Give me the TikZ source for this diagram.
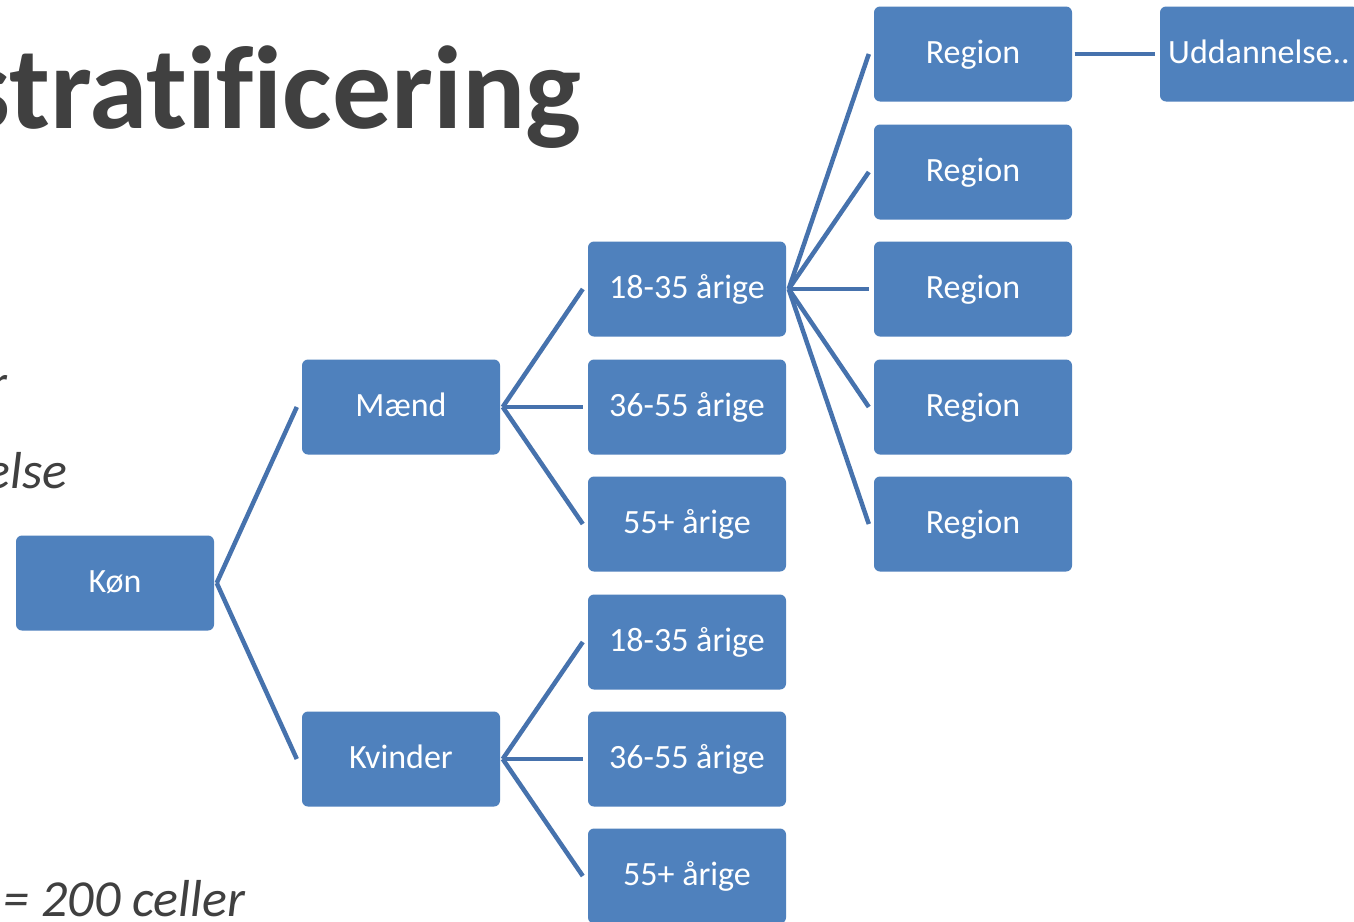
\documentclass[tikz,border=0pt]{standalone}
\usepackage{fontspec}
\setmainfont{Carlito}[Ligatures=CommonOff]
\definecolor{boxblue}{HTML}{4F81BD}
\definecolor{lineblue}{HTML}{4672AD}
\definecolor{titlegray}{HTML}{404040}
\begin{document}
\begin{tikzpicture}[x=1pt,y=-1pt,
  box/.style={rectangle, rounded corners=6pt, fill=boxblue, draw=none,
    minimum width=198pt, minimum height=95pt, inner sep=0pt,
    text=white, font=\fontsize{34}{40}\selectfont,
    text height=27pt, text depth=8pt},
  conn/.style={draw=lineblue, line width=4.5pt},
  side/.style={text=titlegray, font=\fontsize{52}{60}\selectfont\itshape, inner sep=0pt}]
\clip (0,0) rectangle (1354,921);
\fill[white] (0,0) rectangle (1354,921);
% title and side texts
\node[anchor=base east, inner sep=0pt, text=titlegray, font=\fontsize{118}{130}\selectfont\bfseries] (title) at (582,128) {stratificering};
\node[side, anchor=base east] (t1) at (8,400) {r};
\node[side, anchor=base east] (t2) at (68,488) {else};
\node[side, anchor=base east] (t3) at (245,916) {= 200 celler};
% boxes
\node[box] (kon) at (115,583) {Køn};
\node[box] (maend) at (401,407) {Mænd};
\node[box] (kvinder) at (401,759) {Kvinder};
\node[box] (m1) at (687,289) {18-35 årige};
\node[box] (m2) at (687,407) {36-55 årige};
\node[box] (m3) at (687,524) {55+ årige};
\node[box] (k1) at (687,642) {18-35 årige};
\node[box] (k2) at (687,759) {36-55 årige};
\node[box] (k3) at (687,876) {55+ årige};
\node[box] (r1) at (973,54) {Region};
\node[box] (r2) at (973,172) {Region};
\node[box] (r3) at (973,289) {Region};
\node[box] (r4) at (973,407) {Region};
\node[box] (r5) at (973,524) {Region};
\node[box] (udd) at (1259,54) {Uddannelse..};
% connectors
\foreach \p/\c in {kon/maend, kon/kvinder, maend/m1, maend/m2, maend/m3,
  kvinder/k1, kvinder/k2, kvinder/k3, m1/r1, m1/r2, m1/r3, m1/r4, m1/r5, r1/udd}
  \draw[conn] ([xshift=2.5pt]\p.east) -- ([xshift=-5pt]\c.west);
\end{tikzpicture}
\end{document}
